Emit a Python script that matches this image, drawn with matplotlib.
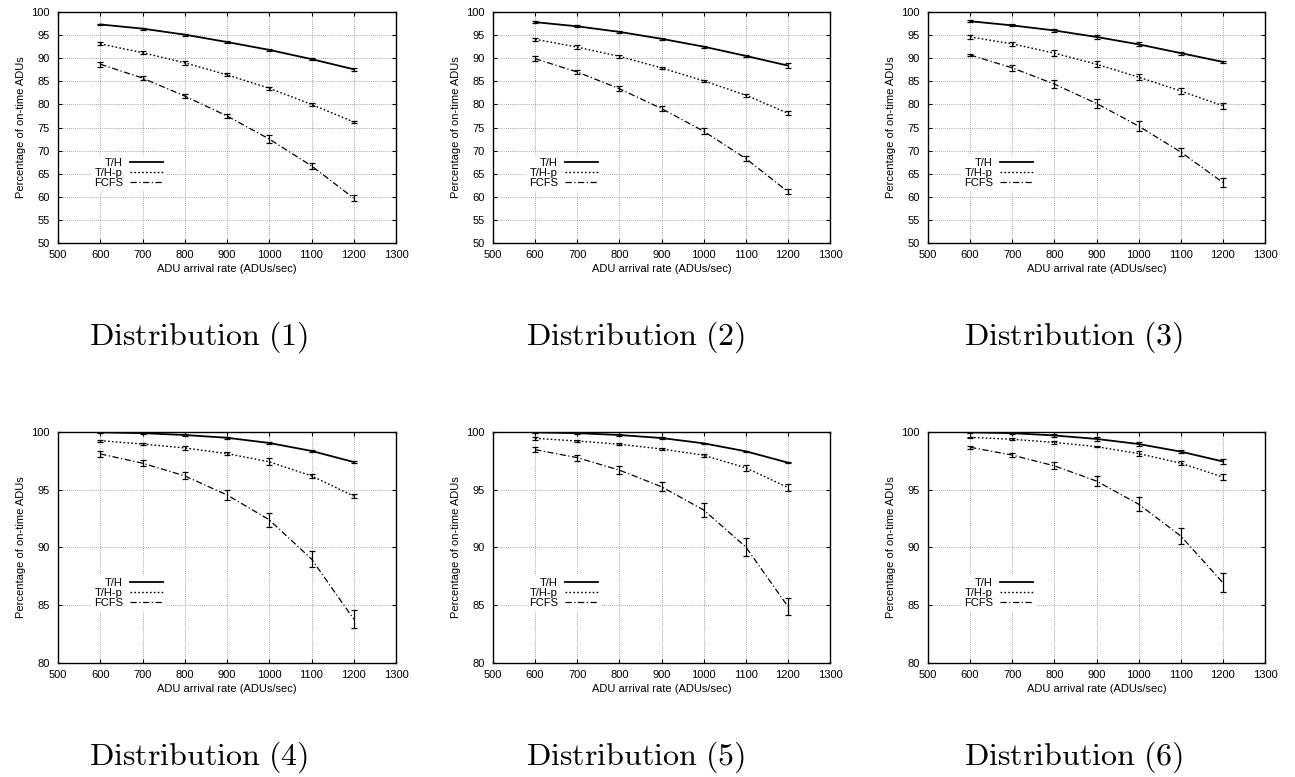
import matplotlib
matplotlib.use('Agg')
import matplotlib.pyplot as plt
from matplotlib.lines import Line2D

rates = [600, 700, 800, 900, 1000, 1100, 1200]

# distribution 1..6 ; on-time percentages and half error bars
th_1 = [97.3, 96.4, 95.1, 93.5, 91.8, 89.8, 87.6]
thp_1 = [93.1, 91.2, 89.0, 86.4, 83.5, 80.0, 76.2]
fcfs_1 = [88.7, 85.7, 81.8, 77.5, 72.5, 66.7, 59.7]
th_err_1 = [0.2, 0.2, 0.2, 0.3, 0.2, 0.2, 0.3]
thp_err_1 = [0.3, 0.3, 0.4, 0.3, 0.3, 0.3, 0.3]
fcfs_err_1 = [0.5, 0.5, 0.5, 0.5, 0.8, 0.6, 0.6]

th_2 = [97.8, 96.9, 95.7, 94.2, 92.5, 90.5, 88.4]
thp_2 = [94.1, 92.4, 90.4, 87.9, 85.1, 82.0, 78.1]
fcfs_2 = [89.9, 87.0, 83.4, 79.1, 74.2, 68.3, 61.1]
th_err_2 = [0.2, 0.2, 0.2, 0.2, 0.2, 0.3, 0.5]
thp_err_2 = [0.3, 0.4, 0.3, 0.2, 0.2, 0.3, 0.4]
fcfs_err_2 = [0.5, 0.5, 0.6, 0.6, 0.7, 0.6, 0.6]

th_3 = [98.0, 97.1, 96.0, 94.6, 93.0, 91.1, 89.2]
thp_3 = [94.6, 93.1, 91.1, 88.7, 85.9, 82.9, 79.7]
fcfs_3 = [90.7, 87.9, 84.4, 80.2, 75.3, 69.7, 63.1]
th_err_3 = [0.2, 0.2, 0.3, 0.4, 0.4, 0.3, 0.3]
thp_err_3 = [0.4, 0.5, 0.7, 0.7, 0.7, 0.6, 0.7]
fcfs_err_3 = [0.3, 0.7, 0.8, 0.9, 1.0, 0.9, 0.9]

th_4 = [99.97, 99.9, 99.74, 99.5, 99.05, 98.36, 97.4]
thp_4 = [99.25, 98.96, 98.62, 98.13, 97.42, 96.2, 94.45]
fcfs_4 = [98.1, 97.3, 96.2, 94.55, 92.4, 89.0, 83.8]
th_err_4 = [0.05, 0.05, 0.05, 0.08, 0.08, 0.1, 0.12]
thp_err_4 = [0.1, 0.1, 0.15, 0.15, 0.3, 0.2, 0.15]
fcfs_err_4 = [0.25, 0.25, 0.3, 0.4, 0.6, 0.7, 0.8]

th_5 = [99.97, 99.9, 99.74, 99.48, 99.02, 98.33, 97.35]
thp_5 = [99.45, 99.22, 98.94, 98.53, 97.99, 96.9, 95.2]
fcfs_5 = [98.47, 97.78, 96.7, 95.26, 93.25, 90.05, 84.9]
th_err_5 = [0.05, 0.05, 0.05, 0.05, 0.05, 0.06, 0.06]
thp_err_5 = [0.15, 0.05, 0.1, 0.05, 0.12, 0.25, 0.3]
fcfs_err_5 = [0.2, 0.25, 0.35, 0.4, 0.6, 0.8, 0.75]

th_6 = [99.97, 99.9, 99.7, 99.4, 98.96, 98.3, 97.45]
thp_6 = [99.54, 99.37, 99.1, 98.73, 98.13, 97.3, 96.1]
fcfs_6 = [98.68, 98.0, 97.07, 95.75, 93.75, 91.0, 86.95]
th_err_6 = [0.05, 0.1, 0.1, 0.15, 0.15, 0.15, 0.2]
thp_err_6 = [0.05, 0.1, 0.1, 0.05, 0.2, 0.2, 0.25]
fcfs_err_6 = [0.15, 0.2, 0.3, 0.4, 0.6, 0.7, 0.8]

panels = [
    (th_1, thp_1, fcfs_1, th_err_1, thp_err_1, fcfs_err_1),
    (th_2, thp_2, fcfs_2, th_err_2, thp_err_2, fcfs_err_2),
    (th_3, thp_3, fcfs_3, th_err_3, thp_err_3, fcfs_err_3),
    (th_4, thp_4, fcfs_4, th_err_4, thp_err_4, fcfs_err_4),
    (th_5, thp_5, fcfs_5, th_err_5, thp_err_5, fcfs_err_5),
    (th_6, thp_6, fcfs_6, th_err_6, thp_err_6, fcfs_err_6),
]
captions = ['Distribution (1)', 'Distribution (2)', 'Distribution (3)',
            'Distribution (4)', 'Distribution (5)', 'Distribution (6)']
names = ['T/H', 'T/H-p', 'FCFS']

W, H = 1295, 777
plt.rcParams['font.family'] = ['Liberation Sans', 'DejaVu Sans']
plt.rcParams['mathtext.fontset'] = 'cm'
fig = plt.figure(figsize=(W / 100, H / 100), dpi=100)

# pixel boxes (left, right, top, bottom)
lefts = [58, 493, 928]
rights = [396, 830, 1265]
tops = [12, 432]
bottoms = [243, 663]
cap_x = [199, 636, 1074]
cap_base = [345, 765]

styles = [dict(ls='-', lw=1.3), dict(ls=(0, (1.2, 1.6)), lw=1.0), dict(ls=(0, (5, 2, 1, 2)), lw=0.9)]

for i, data in enumerate(panels):
    r, c = divmod(i, 3)
    l, rt, t, b = lefts[c], rights[c], tops[r], bottoms[r]
    ax = fig.add_axes([l / W, 1 - b / H, (rt - l) / W, (b - t) / H])
    for k in range(3):
        ax.errorbar(rates, data[k], yerr=data[k + 3], color='black', capsize=2,
                    elinewidth=0.9, capthick=0.9, **styles[k])
    ax.set_xlim(500, 1300)
    if r == 0:
        ax.set_ylim(50, 100)
        ax.set_yticks(range(50, 101, 5))
    else:
        ax.set_ylim(80, 100)
        ax.set_yticks(range(80, 101, 5))
    ax.set_xticks(range(500, 1301, 100))
    ax.grid(True, color='#888888', ls=(0, (1, 1.5)), lw=0.6)
    ax.tick_params(direction='in', top=True, right=True, length=3, labelsize=8)
    ax.tick_params(axis='x', pad=5)
    ax.tick_params(axis='y', pad=6)
    ax.set_xlabel('ADU arrival rate (ADUs/sec)', fontsize=8, labelpad=3)
    ax.set_ylabel('Percentage of on-time ADUs', fontsize=8, labelpad=4)
    for s in ax.spines.values():
        s.set_linewidth(1.0)
    handles = [Line2D([], [], color='black', **styles[k]) for k in range(3)]
    leg = ax.legend(handles, names, loc='lower left', bbox_to_anchor=(0.08, 0.2), frameon=True,
                    fancybox=False, markerfirst=False, fontsize=8, handlelength=3,
                    borderpad=0.3, labelspacing=0.0, handletextpad=0.6)
    leg.get_frame().set_edgecolor('none')
    leg.get_frame().set_facecolor('white')
    leg.get_frame().set_alpha(1)
    for txt in leg.get_texts():
        txt.set_ha('right')
    fig.text(cap_x[c] / W, 1 - cap_base[r] / H, r'$\mathrm{' + captions[i].replace(' ', r'\ ') + '}$',
             ha='center', va='baseline', fontsize=23)

fig.savefig('out.png', dpi=100)
